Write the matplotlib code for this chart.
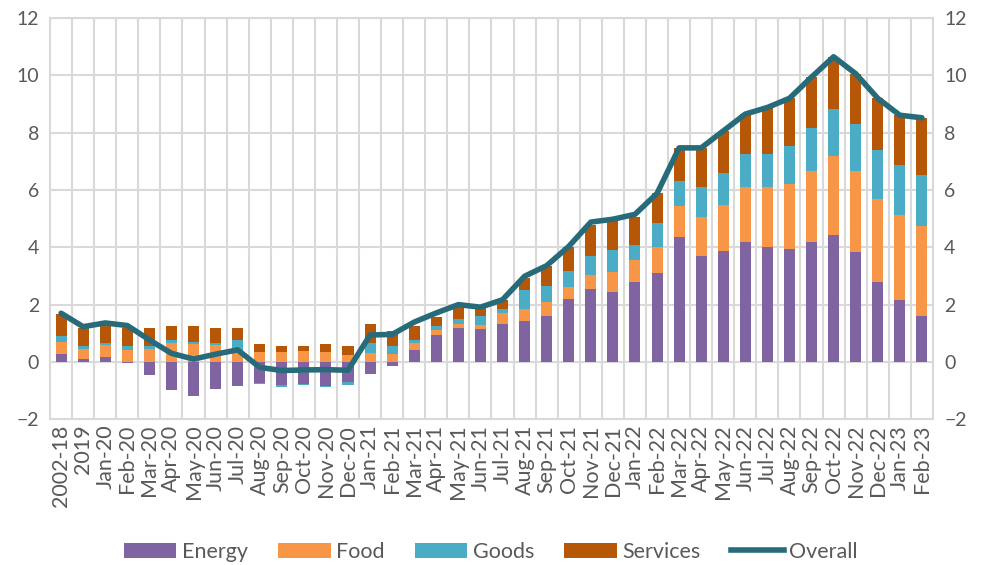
import matplotlib

matplotlib.use("Agg")
import matplotlib.pyplot as plt  # noqa: E402
import numpy as np  # noqa: E402
from matplotlib.lines import Line2D  # noqa: E402
from matplotlib.patches import Patch  # noqa: E402

labels = ["2002-18", "2019", "Jan-20", "Feb-20", "Mar-20", "Apr-20", "May-20", "Jun-20",
          "Jul-20", "Aug-20", "Sep-20", "Oct-20", "Nov-20", "Dec-20", "Jan-21", "Feb-21",
          "Mar-21", "Apr-21", "May-21", "Jun-21", "Jul-21", "Aug-21", "Sep-21", "Oct-21",
          "Nov-21", "Dec-21", "Jan-22", "Feb-22", "Mar-22", "Apr-22", "May-22", "Jun-22",
          "Jul-22", "Aug-22", "Sep-22", "Oct-22", "Nov-22", "Dec-22", "Jan-23", "Feb-23"]

energy = [0.27, 0.09, 0.18, -0.04, -0.46, -0.98, -1.20, -0.95, -0.83, -0.75, -0.81, -0.77,
          -0.83, -0.69, -0.41, -0.15, 0.41, 0.95, 1.19, 1.15, 1.33, 1.43, 1.60, 2.20,
          2.55, 2.44, 2.78, 3.12, 4.35, 3.69, 3.86, 4.18, 4.02, 3.94, 4.18, 4.44,
          3.82, 2.79, 2.16, 1.62]
food = [0.42, 0.37, 0.40, 0.40, 0.46, 0.67, 0.61, 0.60, 0.38, 0.33, 0.33, 0.37,
        0.36, 0.25, 0.30, 0.27, 0.24, 0.15, 0.15, 0.15, 0.36, 0.43, 0.48, 0.43,
        0.50, 0.70, 0.77, 0.90, 1.09, 1.37, 1.61, 1.91, 2.10, 2.27, 2.49, 2.76,
        2.85, 2.88, 2.96, 3.13]
goods = [0.20, 0.08, 0.09, 0.14, 0.11, 0.08, 0.10, 0.05, 0.40, -0.03, -0.08, -0.03,
         -0.05, -0.13, 0.35, 0.27, 0.10, 0.14, 0.17, 0.32, 0.17, 0.64, 0.56, 0.56,
         0.64, 0.78, 0.54, 0.82, 0.89, 1.05, 1.13, 1.15, 1.15, 1.34, 1.48, 1.62,
         1.65, 1.72, 1.75, 1.76]
services = [0.79, 0.64, 0.69, 0.64, 0.61, 0.51, 0.56, 0.54, 0.42, 0.29, 0.24, 0.20,
            0.25, 0.29, 0.66, 0.55, 0.51, 0.33, 0.40, 0.26, 0.31, 0.43, 0.72, 0.81,
            1.10, 0.99, 0.98, 1.04, 1.14, 1.36, 1.46, 1.41, 1.61, 1.65, 1.79, 1.83,
            1.74, 1.81, 1.74, 2.01]
overall = [1.70, 1.23, 1.36, 1.27, 0.77, 0.30, 0.10, 0.27, 0.42, -0.19, -0.30, -0.28,
           -0.27, -0.29, 0.94, 0.96, 1.39, 1.71, 2.00, 1.91, 2.17, 2.99, 3.36, 4.03,
           4.88, 4.98, 5.15, 5.88, 7.47, 7.47, 8.06, 8.65, 8.88, 9.20, 9.94, 10.65,
           10.06, 9.20, 8.61, 8.52]

series = [("Energy", energy, "#8064A2"), ("Food", food, "#F79646"),
          ("Goods", goods, "#4BACC6"), ("Services", services, "#B65708")]
line_color = "#276B7A"
text_color = "#595959"
grid_color = "#D9D9D9"

plt.rcParams["font.family"] = ["Lato", "DejaVu Sans"]

fig = plt.figure(figsize=(9.81, 5.65), dpi=100)
ax = fig.add_axes([0.051, 0.258, 0.900, 0.710])

x = np.arange(len(labels))
pos_base = np.zeros(len(labels))
neg_base = np.zeros(len(labels))
for name, vals, color in series:
    v = np.array(vals)
    base = np.where(v >= 0, pos_base, neg_base)
    ax.bar(x, v, bottom=base, width=0.5, color=color, zorder=2)
    pos_base += np.where(v >= 0, v, 0)
    neg_base += np.where(v < 0, v, 0)

ax.plot(x, overall, color=line_color, linewidth=4, solid_joinstyle="round",
        solid_capstyle="round", zorder=3)

ax.set_xlim(-0.5, len(labels) - 0.5)
ax.set_ylim(-2, 12)
ax.set_yticks(np.arange(-2, 13, 2))
ax.set_xticks(x)
ax.set_xticklabels(labels, rotation=90, fontsize=15.5, color=text_color)
ax.set_xticks(np.arange(-0.5, len(labels), 1), minor=True)
ax.tick_params(axis="x", which="both", length=0, pad=4)
ax.tick_params(axis="y", length=0, labelsize=14, labelcolor=text_color, pad=8)
ax.grid(axis="y", color=grid_color, linewidth=1.5, zorder=0)
ax.grid(axis="x", which="minor", color=grid_color, linewidth=1.5, zorder=0)
for s in ax.spines.values():
    s.set_color(grid_color)
    s.set_linewidth(1.5)
ax.set_axisbelow(True)

ax2 = ax.twinx()
ax2.set_ylim(-2, 12)
ax2.set_yticks(np.arange(-2, 13, 2))
ax2.tick_params(axis="y", length=0, labelsize=14, labelcolor=text_color, pad=8)
for s in ax2.spines.values():
    s.set_visible(False)

handles = [Patch(facecolor=c, label=n) for n, _, c in series]
handles.append(Line2D([0], [0], color=line_color, linewidth=4, label="Overall"))
fig.legend(handles=handles, loc="center", bbox_to_anchor=(0.5, 0.023), ncol=5,
           frameon=False, fontsize=15.5, handlelength=2.45, handleheight=0.75,
           columnspacing=1.4, handletextpad=0.25, labelcolor=text_color)

fig.savefig("out.png", dpi=100)
plt.close(fig)
